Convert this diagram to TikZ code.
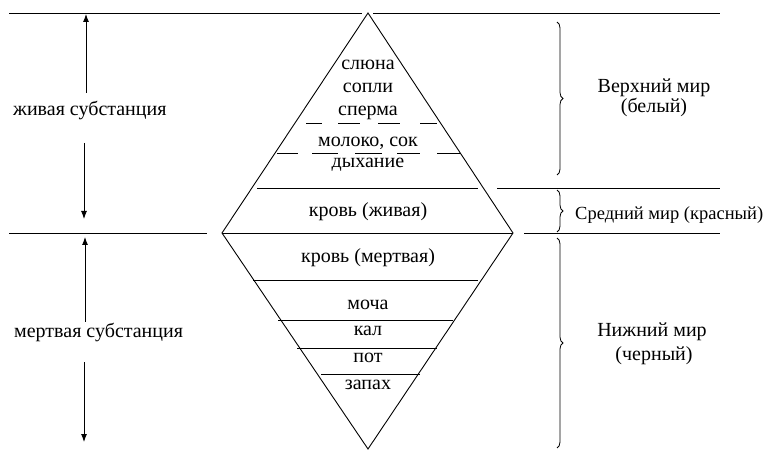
\documentclass[tikz,border=0pt]{standalone}
\usepackage{fontspec}
\setmainfont{Liberation Serif}
\usetikzlibrary{arrows.meta,decorations.pathreplacing}
\begin{document}
\begin{tikzpicture}[x=1bp,y=-1bp,
  ln/.style={line width=0.9bp},
  arr/.style={line width=0.9bp,-{Latex[length=8bp,width=6bp]}},
  brc/.style={line width=0.8bp,decorate,decoration={brace,amplitude=6bp,raise=0bp}},
  lbl/.style={inner sep=0pt,anchor=base,font=\fontsize{20bp}{23bp}\selectfont},
  lbls/.style={inner sep=0pt,anchor=base west,font=\fontsize{18.5bp}{22bp}\selectfont}]
\useasboundingbox (0,0) rectangle (768,450);
% diamond
\coordinate (T) at (368,13);
\coordinate (L) at (222,233);
\coordinate (R) at (513,233);
\coordinate (B) at (368,449);
\draw[ln] (T) -- (L) -- (B) -- (R) -- cycle;
\draw[ln] (L) -- (R);
% long horizontal lines
\draw[ln] (9,13) -- (362,13);
\draw[ln] (373,13) -- (720,13);
\draw[ln] (9,233) -- (207,233);
\draw[ln] (524,233) -- (720,233);
\draw[ln] (497,188) -- (720,188);
% inner lines
\draw[ln] (257,188) -- (478,188);
\draw[ln] (253,280) -- (478,280);
\draw[ln] (278,320) -- (453,320);
\draw[ln] (297,348) -- (437,348);
\draw[ln] (321,374) -- (420,374);
% dashed lines
\draw[ln] (306,123) -- (322,123);
\draw[ln] (338,123) -- (360,123);
\draw[ln] (378,123) -- (400,123);
\draw[ln] (420,123) -- (437,123);
\draw[ln] (277,153) -- (298,153);
\draw[ln] (312,153) -- (338,153);
\draw[ln] (355,153) -- (382,153);
\draw[ln] (397,153) -- (420,153);
\draw[ln] (437,153) -- (460,153);
% texts inside
\node[lbl] (t1) at (368,70) {слюна};
\node[lbl] (t2) at (368,93) {сопли};
\node[lbl] (t3) at (368,116) {сперма};
\node[lbl] (t4) at (368,147) {молоко, сок};
\node[lbl] (t5) at (368,168) {дыхание};
\node[lbl] (t6) at (368,217) {кровь (живая)};
\node[lbl] (t7) at (368,263) {кровь (мертвая)};
\node[lbl] (t8) at (368,310) {моча};
\node[lbl] (t9) at (368,336) {кал};
\node[lbl] (t10) at (368,363) {пот};
\node[lbl] (t11) at (368,389) {запах};
% left
\node[lbl,anchor=base west] (ls) at (13,116) {живая субстанция};
\node[lbl,anchor=base west] (ds) at (14,338) {мертвая субстанция};
\coordinate (a1s) at (86,93);
\coordinate (a1e) at (86,14);
\coordinate (a2s) at (84,143);
\coordinate (a2e) at (84,219);
\coordinate (a3s) at (85,322);
\coordinate (a3e) at (85,237);
\coordinate (a4s) at (84,362);
\coordinate (a4e) at (84,442);
\draw[arr] (a1s) -- (a1e);
\draw[arr] (a2s) -- (a2e);
\draw[arr] (a3s) -- (a3e);
\draw[arr] (a4s) -- (a4e);
% right braces
\draw[brc] (557,22) -- (557,175);
\draw[brc] (557,190) -- (557,232);
\draw[brc] (557,238) -- (557,448);
\node[lbl] (w1) at (654,93) {Верхний мир};
\node[lbl] (w1b) at (654,113) {(белый)};
\node[lbls] (w2) at (575,220) {Средний мир (красный)};
\node[lbl] (w3) at (652,337) {Нижний мир};
\node[lbl] (w3b) at (654,361) {(черный)};
\end{tikzpicture}
\end{document}
